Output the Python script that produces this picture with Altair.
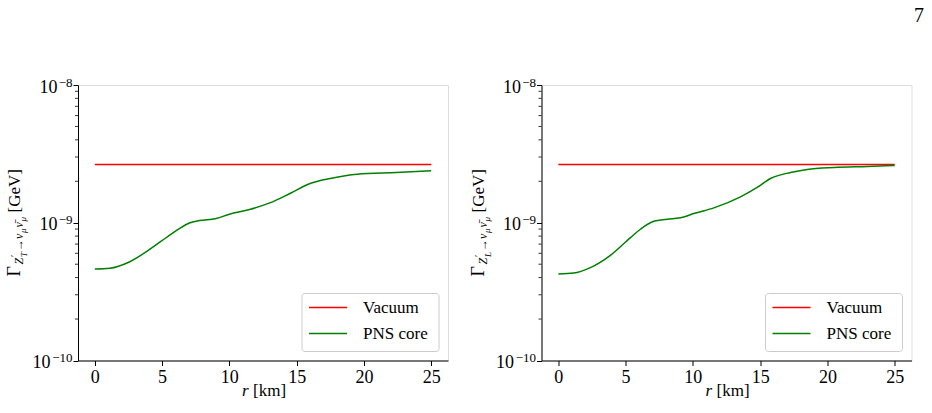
import altair as alt
import pandas as pd

# ---- data -------------------------------------------------------------
series_names = ["Vacuum", "PNS core"]
series_colors = ["#ff0000", "#008000"]

vacuum_r = [0, 25]
vacuum_gamma = [2.65e-9, 2.65e-9]

# transverse mode, PNS core profile
core_T_r = [0, 1.1, 2.56, 4.05, 5.54, 6.28, 7.03, 7.77, 9.02, 10.0, 11.5,
            13.0, 14.5, 16.0, 17.5, 19.5, 22.4, 25.0]
core_T_gamma = [4.61e-10, 4.67e-10, 5.19e-10, 6.38e-10, 8.11e-10, 9.08e-10,
                9.97e-10, 1.037e-9, 1.073e-9, 1.153e-9, 1.247e-9, 1.393e-9,
                1.630e-9, 1.928e-9, 2.096e-9, 2.254e-9, 2.317e-9, 2.382e-9]

# longitudinal mode, PNS core profile
core_L_r = [0, 1.14, 2.38, 3.87, 5.36, 6.1, 7.09, 8.09, 9.32, 10.07, 11.56,
            13.54, 14.78, 15.77, 17.26, 18.5, 20.5, 22.97, 25.0]
core_L_gamma = [4.25e-10, 4.31e-10, 4.72e-10, 5.80e-10, 7.80e-10, 8.97e-10,
                1.025e-9, 1.059e-9, 1.102e-9, 1.167e-9, 1.282e-9, 1.542e-9,
                1.803e-9, 2.096e-9, 2.317e-9, 2.438e-9, 2.518e-9, 2.563e-9,
                2.606e-9]

x_ticks = [0, 5, 10, 15, 20, 25]
y_major = [1e-10, 1e-9, 1e-8]
y_exponents = ["\u221210", "\u22129", "\u22128"]
y_minor = [m * 10.0 ** e for e in (-10, -9) for m in range(2, 10)]

# ---- styling ----------------------------------------------------------
W, H = 370, 275.5
FONT = "Liberation Serif"
x_scale = alt.Scale(domain=[-1.25, 26.25], nice=False, zero=False)
y_scale = alt.Scale(type="log", domain=[1e-10, 1e-8], nice=False)

x_axis = alt.Axis(values=x_ticks, format="d", title=None, grid=False,
                  tickSize=5, tickColor="black", domainColor="black",
                  labelFont=FONT, labelFontSize=18, labelColor="black",
                  labelPadding=3)
# tick labels of the log axis are drawn as mantissa + raised exponent below
y_axis = alt.Axis(values=y_major, labels=False, title=None,
                  grid=False, tickSize=5, tickColor="black",
                  domainColor="black")


def one_row():
    return pd.DataFrame({"k": [0]})


def text_piece(text, x, y, size, angle=0, dx=0, dy=0, italic=False,
               align="left", baseline="alphabetic"):
    kw = dict(font=FONT, fontSize=size, color="black", align=align,
              baseline=baseline, angle=angle, dx=dx, dy=dy)
    if italic:
        kw["fontStyle"] = "italic"
    return alt.Chart(one_row()).mark_text(**kw).encode(
        x=alt.value(x), y=alt.value(y), text=alt.value(text))


def y_tick_labels():
    out = []
    for v, e in zip(y_major, y_exponents):
        d = pd.DataFrame({"v": [v], "base": ["10"], "exp": [e]})
        exp_w = 7.0 * len(e)
        out.append(alt.Chart(d).mark_text(
            font=FONT, fontSize=13, color="black", align="right",
            baseline="alphabetic", dy=1.5).encode(
            y=alt.Y("v:Q", scale=y_scale, axis=y_axis),
            x=alt.value(-5.5), text="exp:N"))
        out.append(alt.Chart(d).mark_text(
            font=FONT, fontSize=18, color="black", align="right",
            baseline="alphabetic", dy=7.5).encode(
            y=alt.Y("v:Q", scale=y_scale, axis=y_axis),
            x=alt.value(-6.5 - exp_w), text="base:N"))
    return out


def panel(core_r, core_gamma, mode, left=False, page_number=None):
    df = pd.concat([
        pd.DataFrame({"r": vacuum_r, "gamma": vacuum_gamma,
                      "series": series_names[0]}),
        pd.DataFrame({"r": core_r, "gamma": core_gamma,
                      "series": series_names[1]}),
    ])

    curves = alt.Chart(df).mark_line(strokeWidth=1.5, interpolate="monotone").encode(
        x=alt.X("r:Q", scale=x_scale, axis=x_axis),
        y=alt.Y("gamma:Q", scale=y_scale, axis=y_axis),
        color=alt.Color("series:N", legend=None,
                        scale=alt.Scale(domain=series_names, range=series_colors)),
        order=alt.Order("r:Q"),
    )

    # minor log ticks on the y axis
    minor = alt.Chart(pd.DataFrame({"v": y_minor})).mark_rule(
        color="black", strokeWidth=0.8).encode(
        y=alt.Y("v:Q", scale=y_scale, axis=y_axis),
        x=alt.value(0), x2=alt.value(-3))

    # legend box
    box = alt.Chart(one_row()).mark_rect(
        fill="white", fillOpacity=0.8, stroke="#cccccc", strokeWidth=1,
        cornerRadius=3).encode(
        x=alt.value(224), x2=alt.value(361), y=alt.value(208.5), y2=alt.value(266.5))
    legend_layers = [box]
    for i, (name, col) in enumerate(zip(series_names, series_colors)):
        yy = 222.5 + 26 * i
        legend_layers.append(
            alt.Chart(one_row()).mark_rule(color=col, strokeWidth=1.5).encode(
                x=alt.value(231), x2=alt.value(269), y=alt.value(yy)))
        legend_layers.append(text_piece(name, 285, yy, 17, baseline="middle"))

    # y-axis title: Gamma with a composite subscript, rotated
    ax, ay = -58, 191.5
    ytitle = [
        text_piece("\u0393", ax, ay, 18, angle=270),
        text_piece("Z", ax, ay, 12, angle=270, dx=12, dy=3, italic=True),
        text_piece("\u2032", ax, ay, 10, angle=270, dx=19.5, dy=-2),
        text_piece(mode, ax, ay, 9, angle=270, dx=19.5, dy=7, italic=True),
        text_piece("\u2192", ax, ay, 12, angle=270, dx=25.5, dy=3),
        text_piece("\u03bd", ax, ay, 12, angle=270, dx=37.5, dy=3, italic=True),
        text_piece("\u03bc", ax, ay, 9, angle=270, dx=43.5, dy=6, italic=True),
        text_piece("\u03bd\u0304", ax, ay, 12, angle=270, dx=49, dy=3, italic=True),
        text_piece("\u03bc", ax, ay, 9, angle=270, dx=55, dy=6, italic=True),
        text_piece("[GeV]", ax, ay, 17, angle=270, dx=64),
    ]

    # x-axis title
    xtitle = [
        text_piece("r", 164, 311, 17, italic=True),
        text_piece("[km]", 175, 311, 17),
    ]

    layers = [curves, minor] + y_tick_labels() + legend_layers + ytitle + xtitle
    if left:
        # fixes the top-left corner of the page
        layers.append(alt.Chart(one_row()).mark_rule(color="white", opacity=0).encode(
            x=alt.value(-77.5), x2=alt.value(-77.5), y=alt.value(-84), y2=alt.value(-84)))
    if page_number is not None:
        layers.append(text_piece(page_number, 377.5, -63.5, 20, align="center"))
    return alt.layer(*layers).properties(width=W, height=H)


left_panel = panel(core_T_r, core_T_gamma, "T", left=True)
right_panel = panel(core_L_r, core_L_gamma, "L", page_number="7")

chart = alt.hconcat(left_panel, right_panel, spacing=93.5, bounds="flush").properties(
    padding=0
).configure_view(stroke="black", strokeWidth=1).configure(background="white")

chart.save("out.html", embed_options={"renderer": "svg", "actions": False})
